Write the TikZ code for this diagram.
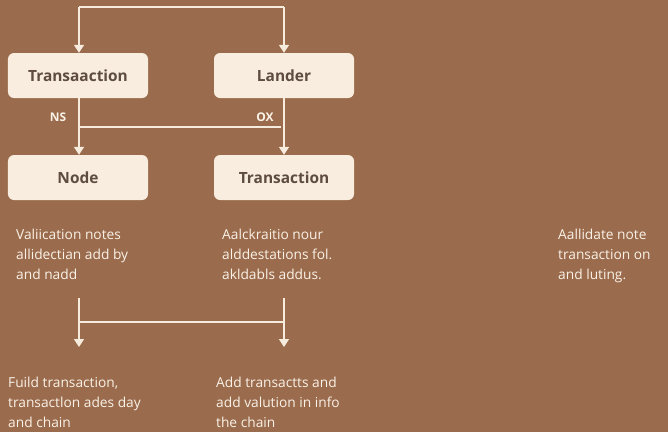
\documentclass[tikz,border=0pt]{standalone}
\usepackage{fontspec}
\setmainfont{Open Sans}
\usetikzlibrary{arrows.meta}
\definecolor{bgbrown}{RGB}{154,107,76}
\definecolor{boxfill}{RGB}{248,237,222}
\definecolor{linecol}{RGB}{246,236,222}
\definecolor{boxtext}{RGB}{94,76,64}
\definecolor{desctext}{RGB}{250,242,232}
\tikzset{
  flowbox/.style={draw=none, fill=boxfill, rounded corners=6bp, minimum width=140bp, minimum height=45bp, inner sep=0pt, text=boxtext, font=\fontsize{15.5}{18}\selectfont\bfseries},
  conn/.style={draw=linecol, line width=1.5bp},
  arr/.style={conn, -{Triangle[width=10bp,length=8bp]}},
  desc/.style={anchor=north west, align=left, text=desctext, inner sep=0pt, font=\fontsize{13.8}{20}\selectfont},
  lbl/.style={text=desctext, inner sep=0pt, font=\fontsize{12}{14}\selectfont\bfseries}
}
\begin{document}
\begin{tikzpicture}[x=1bp,y=-1bp]
\fill[bgbrown] (0,0) rectangle (668,432);
\useasboundingbox (0,0) rectangle (668,432);
% boxes
\node[flowbox] (t1) at (78,75.5) {Transaaction};
\node[flowbox] (ld) at (284,75.5) {Lander};
\node[flowbox] (nd) at (78,177.5) {Node};
\node[flowbox] (t2) at (284,177.5) {Transaction};
% top connector
\coordinate (topl) at (79,7);
\coordinate (topr) at (284,7);
\draw[conn] (topl) -- (topr);
\draw[arr] (topl) -- (t1.north -| topl);
\draw[arr] (topr) -- (ld.north);
% middle connectors
\coordinate (midl) at (79,127);
\coordinate (midr) at (281,127);
\draw[arr] (t1.south -| midl) -- (nd.north -| midl);
\draw[arr] (ld.south) -- (t2.north);
\draw[conn] (midl) -- (midr);
\node[lbl] (ns) at (58,117) {NS};
\node[lbl] (ox) at (265,117) {OX};
% descriptions
\node[desc] (d1) at (16,229) {Valiication notes\\allidectian add by\\and nadd};
\node[desc] (d2) at (222,229) {Aalckraitio nour\\alddestations fol.\\akldabls addus.};
\node[desc] (d3) at (558,229) {Aallidate note\\transaction on\\and luting.};
% lower connectors
\coordinate (la) at (79,298);
\coordinate (lb) at (79,347);
\coordinate (ra) at (284,298);
\coordinate (rb) at (284,347);
\coordinate (hl) at (79,322);
\coordinate (hr) at (284,322);
\draw[arr] (la) -- (lb);
\draw[arr] (ra) -- (rb);
\draw[conn] (hl) -- (hr);
% bottom texts
\node[desc] (b1) at (8,377) {Fuild transaction,\\transactlon ades day\\and chain};
\node[desc] (b2) at (216,377) {Add transactts and\\add valution in info\\the chain};
\end{tikzpicture}
\end{document}
